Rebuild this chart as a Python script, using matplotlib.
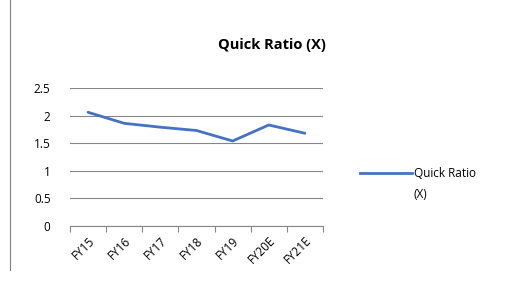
import matplotlib
matplotlib.use("Agg")
import matplotlib.pyplot as plt
from matplotlib.lines import Line2D
import numpy as np

categories = ["FY15", "FY16", "FY17", "FY18", "FY19", "FY20E", "FY21E"]
quick_ratio = [2.06, 1.86, 1.79, 1.73, 1.54, 1.83, 1.68]
yticks = [0, 0.5, 1, 1.5, 2, 2.5]
ytick_labels = ["0", "0.5", "1", "1.5", "2", "2.5"]

plt.rcParams['font.family'] = ['Open Sans', 'DejaVu Sans']

fig = plt.figure(figsize=(5.30, 3.05), dpi=100)
ax = fig.add_axes([70/530, 1-226/305, (323-70)/530, (226-88)/305])

x = np.arange(len(categories))
line, = ax.plot(x, quick_ratio, color="#4472C4", lw=2.0, solid_capstyle="round")

ax.set_xlim(-0.5, len(categories) - 0.5)
ax.set_ylim(0, 2.5)
ax.set_yticks(yticks)
ax.set_yticklabels(ytick_labels, fontsize=8.5)
ax.yaxis.grid(True, color="#868686", lw=0.8)
ax.set_axisbelow(True)
ax.tick_params(axis="y", length=0, pad=14)

ax.set_xticks(x)
ax.set_xticklabels(categories, rotation=45, ha="right", rotation_mode="anchor", fontsize=8.5)
ax.set_xticks(np.arange(len(categories) + 1) - 0.5, minor=True)
ax.tick_params(axis="x", which="major", length=0, pad=6)
ax.tick_params(axis="x", which="minor", length=4, color="#868686", width=0.8)

for s in ["left", "right", "top"]:
    ax.spines[s].set_visible(False)
ax.spines["bottom"].set_color("#868686")
ax.spines["bottom"].set_linewidth(0.8)

fig.text(272/530, 1-45/305, "Quick Ratio (X)", ha="center", va="center", fontsize=10.5, fontweight="bold")

# legend
fig.add_artist(Line2D([360/530, 412/530], [1-173/305, 1-173/305], color="#4472C4", lw=2.0))
fig.text(414/530, 1-173/305, "Quick Ratio", ha="left", va="center", fontsize=8.5)
fig.text(414/530, 1-195/305, "(X)", ha="left", va="center", fontsize=8.5)

# left border line
fig.add_artist(Line2D([10/530, 10/530], [1-270/305, 1.0], color="#808080", lw=0.8))

fig.savefig("out.png", dpi=100)
